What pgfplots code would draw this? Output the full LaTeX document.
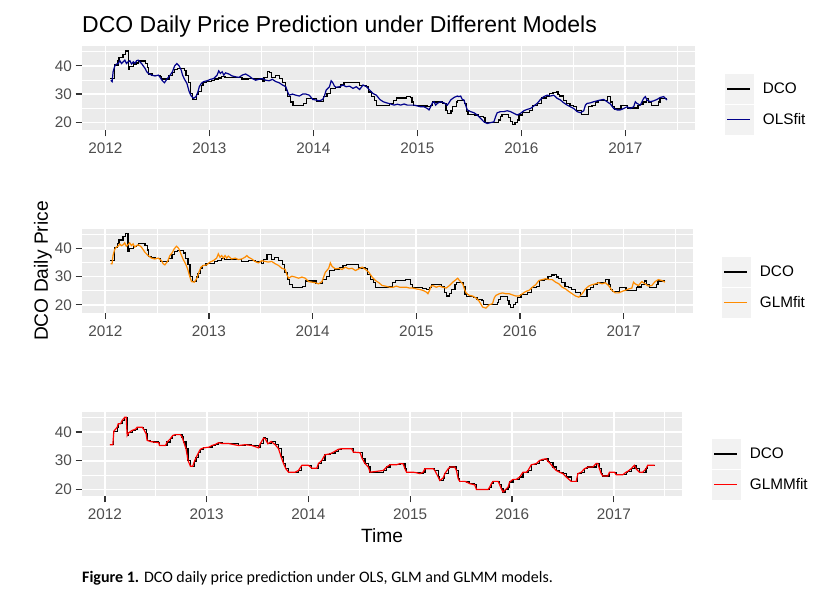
\documentclass[border=0pt]{standalone}
\usepackage{fontspec}
\setmainfont{Liberation Sans}
\newfontfamily\capfont{Carlito}
\usepackage{pgfplots}
\usepackage{pgfplotstable}
\pgfplotsset{compat=1.18}
\definecolor{panelgrey}{HTML}{EBEBEB}
\definecolor{keyfill}{HTML}{F2F2F2}
\definecolor{tickgrey}{HTML}{333333}
\definecolor{labelgrey}{HTML}{4D4D4D}
\definecolor{olsblue}{HTML}{00008B}
\definecolor{glmorange}{HTML}{FF8C00}
\definecolor{glmmred}{HTML}{FF0000}

\pgfplotstableread{
t v
2012.049 35.6
2012.078 35.6
2012.088 40.3
2012.121 41.7
2012.131 42.9
2012.154 42.9
2012.170 44.1
2012.196 45.2
2012.209 45.2
2012.219 38.8
2012.235 39.8
2012.268 40.6
2012.301 41.0
2012.317 41.7
2012.366 41.7
2012.382 40.9
2012.405 39.4
2012.415 37.1
2012.448 36.7
2012.480 36.5
2012.529 36.3
2012.536 35.3
2012.595 35.3
2012.611 36.5
2012.644 37.7
2012.667 38.8
2012.693 39.1
2012.742 39.1
2012.758 38.3
2012.775 36.5
2012.797 34.2
2012.817 30.1
2012.840 28.1
2012.863 28.1
2012.879 29.8
2012.895 31.0
2012.922 33.0
2012.938 34.0
2012.971 34.5
2013.020 34.7
2013.052 35.3
2013.085 35.7
2013.118 36.3
2013.150 36.0
2013.216 36.0
2013.314 35.3
2013.379 35.6
2013.444 35.3
2013.510 34.5
2013.526 35.9
2013.559 37.9
2013.575 37.7
2013.601 35.9
2013.634 36.7
2013.673 35.6
2013.706 34.2
2013.732 31.3
2013.755 29.0
2013.778 27.2
2013.804 26.0
2013.869 26.0
2013.902 26.6
2013.935 28.4
2014.000 28.4
2014.033 27.4
2014.082 27.4
2014.098 29.0
2014.131 30.1
2014.163 32.1
2014.212 32.4
2014.261 33.3
2014.294 34.0
2014.327 34.2
2014.425 34.2
2014.441 33.0
2014.507 32.8
2014.529 30.7
2014.556 29.0
2014.588 27.8
2014.605 26.0
2014.735 26.6
2014.768 27.8
2014.801 28.6
2014.866 28.6
2014.899 29.0
2014.931 28.9
2014.948 27.2
2014.964 26.0
2015.029 26.0
2015.062 25.8
2015.095 25.5
2015.127 26.0
2015.144 27.2
2015.225 27.2
2015.242 26.6
2015.275 24.3
2015.291 23.1
2015.324 24.0
2015.340 25.5
2015.373 27.2
2015.389 27.8
2015.438 27.8
2015.454 26.6
2015.471 23.7
2015.487 22.8
2015.536 22.8
2015.552 22.6
2015.585 22.0
2015.634 21.6
2015.650 20.0
2015.765 20.0
2015.781 20.8
2015.797 22.0
2015.814 22.8
2015.863 22.8
2015.879 21.6
2015.895 20.2
2015.912 19.1
2015.938 20.0
2015.961 20.8
2015.977 22.6
2016.010 23.5
2016.042 23.5
2016.075 24.3
2016.108 26.0
2016.141 26.0
2016.157 26.6
2016.190 28.6
2016.239 29.0
2016.271 30.1
2016.304 30.5
2016.337 30.7
2016.353 29.8
2016.369 29.3
2016.402 27.8
2016.435 26.6
2016.467 26.0
2016.500 25.5
2016.533 24.3
2016.582 22.8
2016.631 22.8
2016.647 25.5
2016.680 26.0
2016.712 27.2
2016.745 27.8
2016.794 27.8
2016.827 29.0
2016.843 29.0
2016.859 27.2
2016.876 25.5
2016.892 24.7
2016.941 24.7
2016.958 26.0
2017.007 26.0
2017.023 25.1
2017.088 25.1
2017.121 26.0
2017.137 26.3
2017.170 27.2
2017.203 28.4
2017.219 27.2
2017.252 26.0
2017.284 26.0
2017.317 27.2
2017.333 28.4
2017.400 28.4
}\dco

\pgfplotstableread{
t v
2012.052 34.9
2012.065 34.4
2012.074 37.9
2012.090 39.9
2012.106 40.6
2012.123 40.8
2012.139 41.8
2012.155 40.8
2012.171 41.4
2012.187 42.0
2012.203 40.8
2012.219 41.4
2012.235 41.8
2012.252 40.6
2012.268 41.4
2012.284 40.8
2012.300 41.8
2012.316 42.0
2012.332 41.4
2012.348 40.8
2012.365 39.9
2012.381 39.1
2012.397 37.9
2012.413 37.3
2012.445 36.7
2012.477 36.4
2012.510 36.7
2012.526 35.9
2012.548 34.7
2012.568 34.0
2012.590 35.2
2012.623 36.7
2012.645 37.9
2012.665 39.9
2012.687 40.8
2012.710 39.9
2012.729 38.5
2012.742 36.7
2012.761 35.2
2012.784 33.8
2012.806 30.8
2012.826 29.3
2012.848 28.5
2012.871 29.1
2012.890 30.8
2012.903 32.6
2012.923 33.8
2012.945 34.4
2012.977 34.7
2013.010 35.2
2013.042 35.5
2013.074 36.7
2013.090 38.2
2013.106 37.3
2013.123 37.9
2013.139 36.7
2013.155 37.5
2013.187 37.1
2013.219 36.4
2013.252 36.1
2013.284 35.9
2013.316 36.7
2013.348 37.1
2013.381 36.4
2013.413 35.5
2013.445 34.9
2013.477 35.2
2013.510 35.5
2013.542 34.9
2013.574 34.7
2013.606 35.2
2013.639 34.4
2013.671 34.0
2013.703 33.2
2013.735 32.6
2013.752 30.8
2013.768 29.6
2013.800 30.0
2013.832 29.6
2013.865 29.3
2013.897 30.0
2013.929 30.0
2013.961 29.6
2013.994 28.1
2014.026 27.9
2014.058 27.6
2014.090 28.1
2014.106 29.3
2014.123 31.4
2014.155 32.6
2014.171 34.7
2014.187 34.0
2014.203 32.8
2014.219 32.4
2014.252 32.6
2014.284 33.2
2014.316 32.6
2014.348 32.8
2014.381 32.0
2014.413 32.6
2014.445 31.6
2014.477 33.2
2014.510 32.6
2014.542 31.4
2014.574 30.2
2014.606 29.6
2014.639 28.1
2014.671 27.3
2014.703 26.9
2014.744 26.5
2014.776 26.1
2014.808 26.4
2014.840 26.1
2014.872 26.5
2014.904 26.1
2014.936 26.1
2014.968 26.1
2015.000 25.8
2015.032 25.5
2015.064 25.5
2015.096 24.9
2015.112 24.4
2015.128 25.5
2015.144 26.9
2015.160 27.3
2015.176 26.1
2015.192 26.7
2015.224 27.3
2015.256 26.9
2015.288 26.1
2015.304 26.9
2015.320 27.9
2015.352 28.8
2015.384 29.3
2015.400 29.1
2015.416 29.3
2015.432 28.1
2015.448 27.9
2015.464 26.1
2015.480 24.4
2015.512 23.8
2015.544 23.4
2015.576 22.6
2015.608 21.4
2015.640 20.2
2015.672 19.6
2015.704 19.9
2015.736 20.2
2015.752 22.0
2015.768 23.4
2015.800 23.8
2015.832 23.8
2015.864 24.1
2015.896 23.8
2015.928 23.2
2015.960 22.6
2015.992 23.2
2016.024 24.1
2016.056 24.6
2016.088 24.9
2016.120 25.8
2016.152 26.7
2016.184 28.1
2016.216 29.1
2016.248 29.6
2016.280 29.3
2016.312 29.6
2016.344 28.5
2016.376 27.9
2016.408 26.9
2016.440 26.1
2016.472 25.5
2016.504 24.9
2016.536 23.8
2016.568 23.4
2016.600 24.1
2016.616 26.1
2016.632 26.7
2016.664 26.9
2016.696 27.3
2016.728 27.6
2016.760 27.9
2016.792 28.1
2016.824 27.3
2016.856 26.5
2016.888 24.9
2016.920 24.4
2016.952 24.4
2016.984 24.9
2017.016 25.5
2017.048 24.9
2017.080 25.5
2017.096 27.3
2017.112 26.7
2017.144 26.1
2017.176 28.5
2017.192 29.1
2017.208 27.9
2017.240 27.3
2017.272 27.6
2017.304 28.1
2017.336 28.8
2017.368 29.1
2017.384 28.5
2017.400 27.9
}\ols

\pgfplotstableread{
t v
2012.052 34.5
2012.065 34.5
2012.074 37.4
2012.090 39.5
2012.106 40.4
2012.123 40.7
2012.139 41.5
2012.155 40.9
2012.171 41.2
2012.187 41.9
2012.203 40.7
2012.219 41.2
2012.235 41.9
2012.252 40.9
2012.268 41.5
2012.284 40.4
2012.300 40.9
2012.316 41.2
2012.332 40.9
2012.348 40.4
2012.365 39.5
2012.381 38.6
2012.397 38.0
2012.413 37.4
2012.445 36.5
2012.477 36.2
2012.510 36.5
2012.542 35.6
2012.558 34.5
2012.574 34.1
2012.600 35.3
2012.623 37.4
2012.645 38.4
2012.665 39.8
2012.687 40.7
2012.710 39.8
2012.729 38.0
2012.752 36.0
2012.774 34.5
2012.794 32.7
2012.816 29.8
2012.832 28.2
2012.858 28.0
2012.881 29.2
2012.903 31.5
2012.923 33.3
2012.945 33.9
2012.977 34.1
2013.010 35.1
2013.042 35.6
2013.074 36.5
2013.090 38.0
2013.106 36.8
2013.123 37.4
2013.139 36.5
2013.155 37.4
2013.171 36.5
2013.187 37.2
2013.219 36.2
2013.252 36.5
2013.284 36.0
2013.316 36.2
2013.348 36.8
2013.365 37.4
2013.381 36.8
2013.413 36.2
2013.445 35.3
2013.477 34.8
2013.510 35.6
2013.542 35.3
2013.574 35.1
2013.606 35.3
2013.639 34.5
2013.671 33.9
2013.703 32.9
2013.735 32.5
2013.752 30.6
2013.768 29.4
2013.800 30.1
2013.832 29.8
2013.865 29.4
2013.897 29.8
2013.929 29.4
2013.961 28.2
2013.994 28.0
2014.026 27.8
2014.058 27.4
2014.090 28.2
2014.106 29.8
2014.123 31.5
2014.155 32.9
2014.171 34.8
2014.187 33.6
2014.219 32.7
2014.252 32.9
2014.284 32.5
2014.316 33.3
2014.348 32.7
2014.381 32.9
2014.413 32.1
2014.445 32.7
2014.477 33.3
2014.510 32.5
2014.542 31.5
2014.574 29.8
2014.606 28.6
2014.639 27.8
2014.671 26.8
2014.703 26.6
2014.744 26.2
2014.776 26.2
2014.808 26.6
2014.840 26.2
2014.872 26.2
2014.904 26.2
2014.936 25.9
2014.968 25.9
2015.000 25.6
2015.032 25.4
2015.064 25.1
2015.096 24.5
2015.112 23.9
2015.128 25.1
2015.144 26.6
2015.160 26.8
2015.192 26.2
2015.224 26.6
2015.256 26.2
2015.288 25.9
2015.320 26.8
2015.352 28.0
2015.384 28.9
2015.400 29.4
2015.416 28.6
2015.448 27.4
2015.464 25.6
2015.480 24.2
2015.512 23.3
2015.544 23.1
2015.576 22.4
2015.608 21.2
2015.640 19.2
2015.672 18.8
2015.704 20.0
2015.736 20.4
2015.752 22.4
2015.768 23.3
2015.800 23.9
2015.832 24.2
2015.864 23.9
2015.896 23.9
2015.928 23.5
2015.960 23.1
2015.992 23.1
2016.024 23.9
2016.056 24.7
2016.088 25.1
2016.120 26.2
2016.152 27.1
2016.184 28.6
2016.216 28.9
2016.248 29.2
2016.280 28.9
2016.312 28.9
2016.344 28.0
2016.376 27.4
2016.408 26.2
2016.440 25.6
2016.472 24.7
2016.504 23.9
2016.536 23.1
2016.568 22.7
2016.600 23.9
2016.632 25.6
2016.664 26.6
2016.696 27.1
2016.728 27.4
2016.760 27.8
2016.792 27.4
2016.824 27.8
2016.856 26.8
2016.888 25.1
2016.920 24.2
2016.952 24.2
2016.984 24.7
2017.016 25.1
2017.048 25.6
2017.080 25.9
2017.096 28.0
2017.112 27.4
2017.144 26.8
2017.176 28.2
2017.208 27.4
2017.240 26.6
2017.272 26.8
2017.304 28.2
2017.336 28.9
2017.368 28.6
2017.400 28.0
}\glm

\pgfplotsset{
  legend image code/.code={
    \fill[keyfill] (0pt,-14.4pt) rectangle (27.7pt,14.4pt);
    \draw[#1] (1.7pt,0pt) -- (24.3pt,0pt);
  },
}
\pgfplotsset{
  ggpanel/.style={
    scale only axis, anchor=south west,
    xmin=2011.775, xmax=2017.67,
    xtick={2012,2013,2014,2015,2016,2017},
    minor xtick={2012.5,2013.5,2014.5,2015.5,2016.5,2017.5},
    ytick={20,30,40}, minor ytick={25,35,45},
    grid=both,
    major grid style={white, line width=1.7pt},
    minor grid style={white, line width=0.85pt},
    axis background/.style={fill=panelgrey},
    axis line style={draw=none},
    tick pos=left, tick align=outside,
    major tick length=6.5pt, minor tick length=0pt,
    major tick style={tickgrey, line width=1.2pt},
    /pgf/number format/assume math mode=true,
    /pgf/number format/1000 sep={},
    scaled x ticks=false, scaled y ticks=false,
    ticklabel style={font=\fontsize{15.3}{18}\selectfont, text=labelgrey},
    xticklabel style={yshift=-3pt},
    legend cell align=left,
    legend style={draw=none, fill=none, inner sep=0pt, outer sep=0pt,
      row sep=0.8pt, anchor=north west,
      font=\fontsize{15.3}{18}\selectfont,
      nodes={inner sep=0pt, outer sep=0pt},
      /tikz/every odd column/.append style={column sep=9pt}},
  },
  dcoline/.style={black, line width=1.2pt, const plot},
}

\begin{document}
\begin{tikzpicture}
\path[use as bounding box] (0pt,0pt) rectangle (819pt,601pt);

% Panel 1: OLS
\begin{axis}[ggpanel, at={(82pt,471pt)}, width=613pt, height=84pt,
  ymin=17.3, ymax=47.0,
  legend style={at={(1.0489,0.667)}}]
\addplot[dcoline] table[x=t,y=v] {\dco};
\addlegendentry{DCO}
\addplot[olsblue, line width=1.2pt] table[x=t,y=v] {\ols};
\addlegendentry{OLSfit}
\end{axis}

% Panel 2: GLM
\begin{axis}[ggpanel, at={(82pt,288.3pt)}, width=611pt, height=84pt,
  ymin=17.2, ymax=46.9,
  legend style={at={(1.0475,0.663)}}]
\addplot[dcoline] table[x=t,y=v] {\dco};
\addlegendentry{DCO}
\addplot[glmorange, line width=1.2pt] table[x=t,y=v] {\glm};
\addlegendentry{GLMfit}
\end{axis}

% Panel 3: GLMM (fit coincides with DCO)
\begin{axis}[ggpanel, at={(82pt,105pt)}, width=600pt, height=84pt,
  ymin=17.7, ymax=47.0,
  legend style={at={(1.05,0.679)}}]
\addplot[dcoline] table[x=t,y=v] {\dco};
\addlegendentry{DCO}
\addplot[glmmred, line width=1.2pt] table[x=t,y=v] {\dco};
\addlegendentry{GLMMfit}
\end{axis}

\node[anchor=base west, inner sep=0pt] at (82pt,568pt)
  {\fontsize{23}{27}\selectfont DCO Daily Price Prediction under Different Models};
\node[rotate=90, inner sep=0pt] at (43pt,330pt)
  {\fontsize{19.2}{23}\selectfont DCO Daily Price};
\node[anchor=base, inner sep=0pt] at (382pt,58pt)
  {\fontsize{19.2}{23}\selectfont Time};
\node[anchor=base west, inner sep=0pt] at (82pt,18pt)
  {\capfont\fontsize{16}{19}\selectfont\textbf{Figure 1.} DCO daily price prediction under OLS, GLM and GLMM models.};
\end{tikzpicture}
\end{document}
